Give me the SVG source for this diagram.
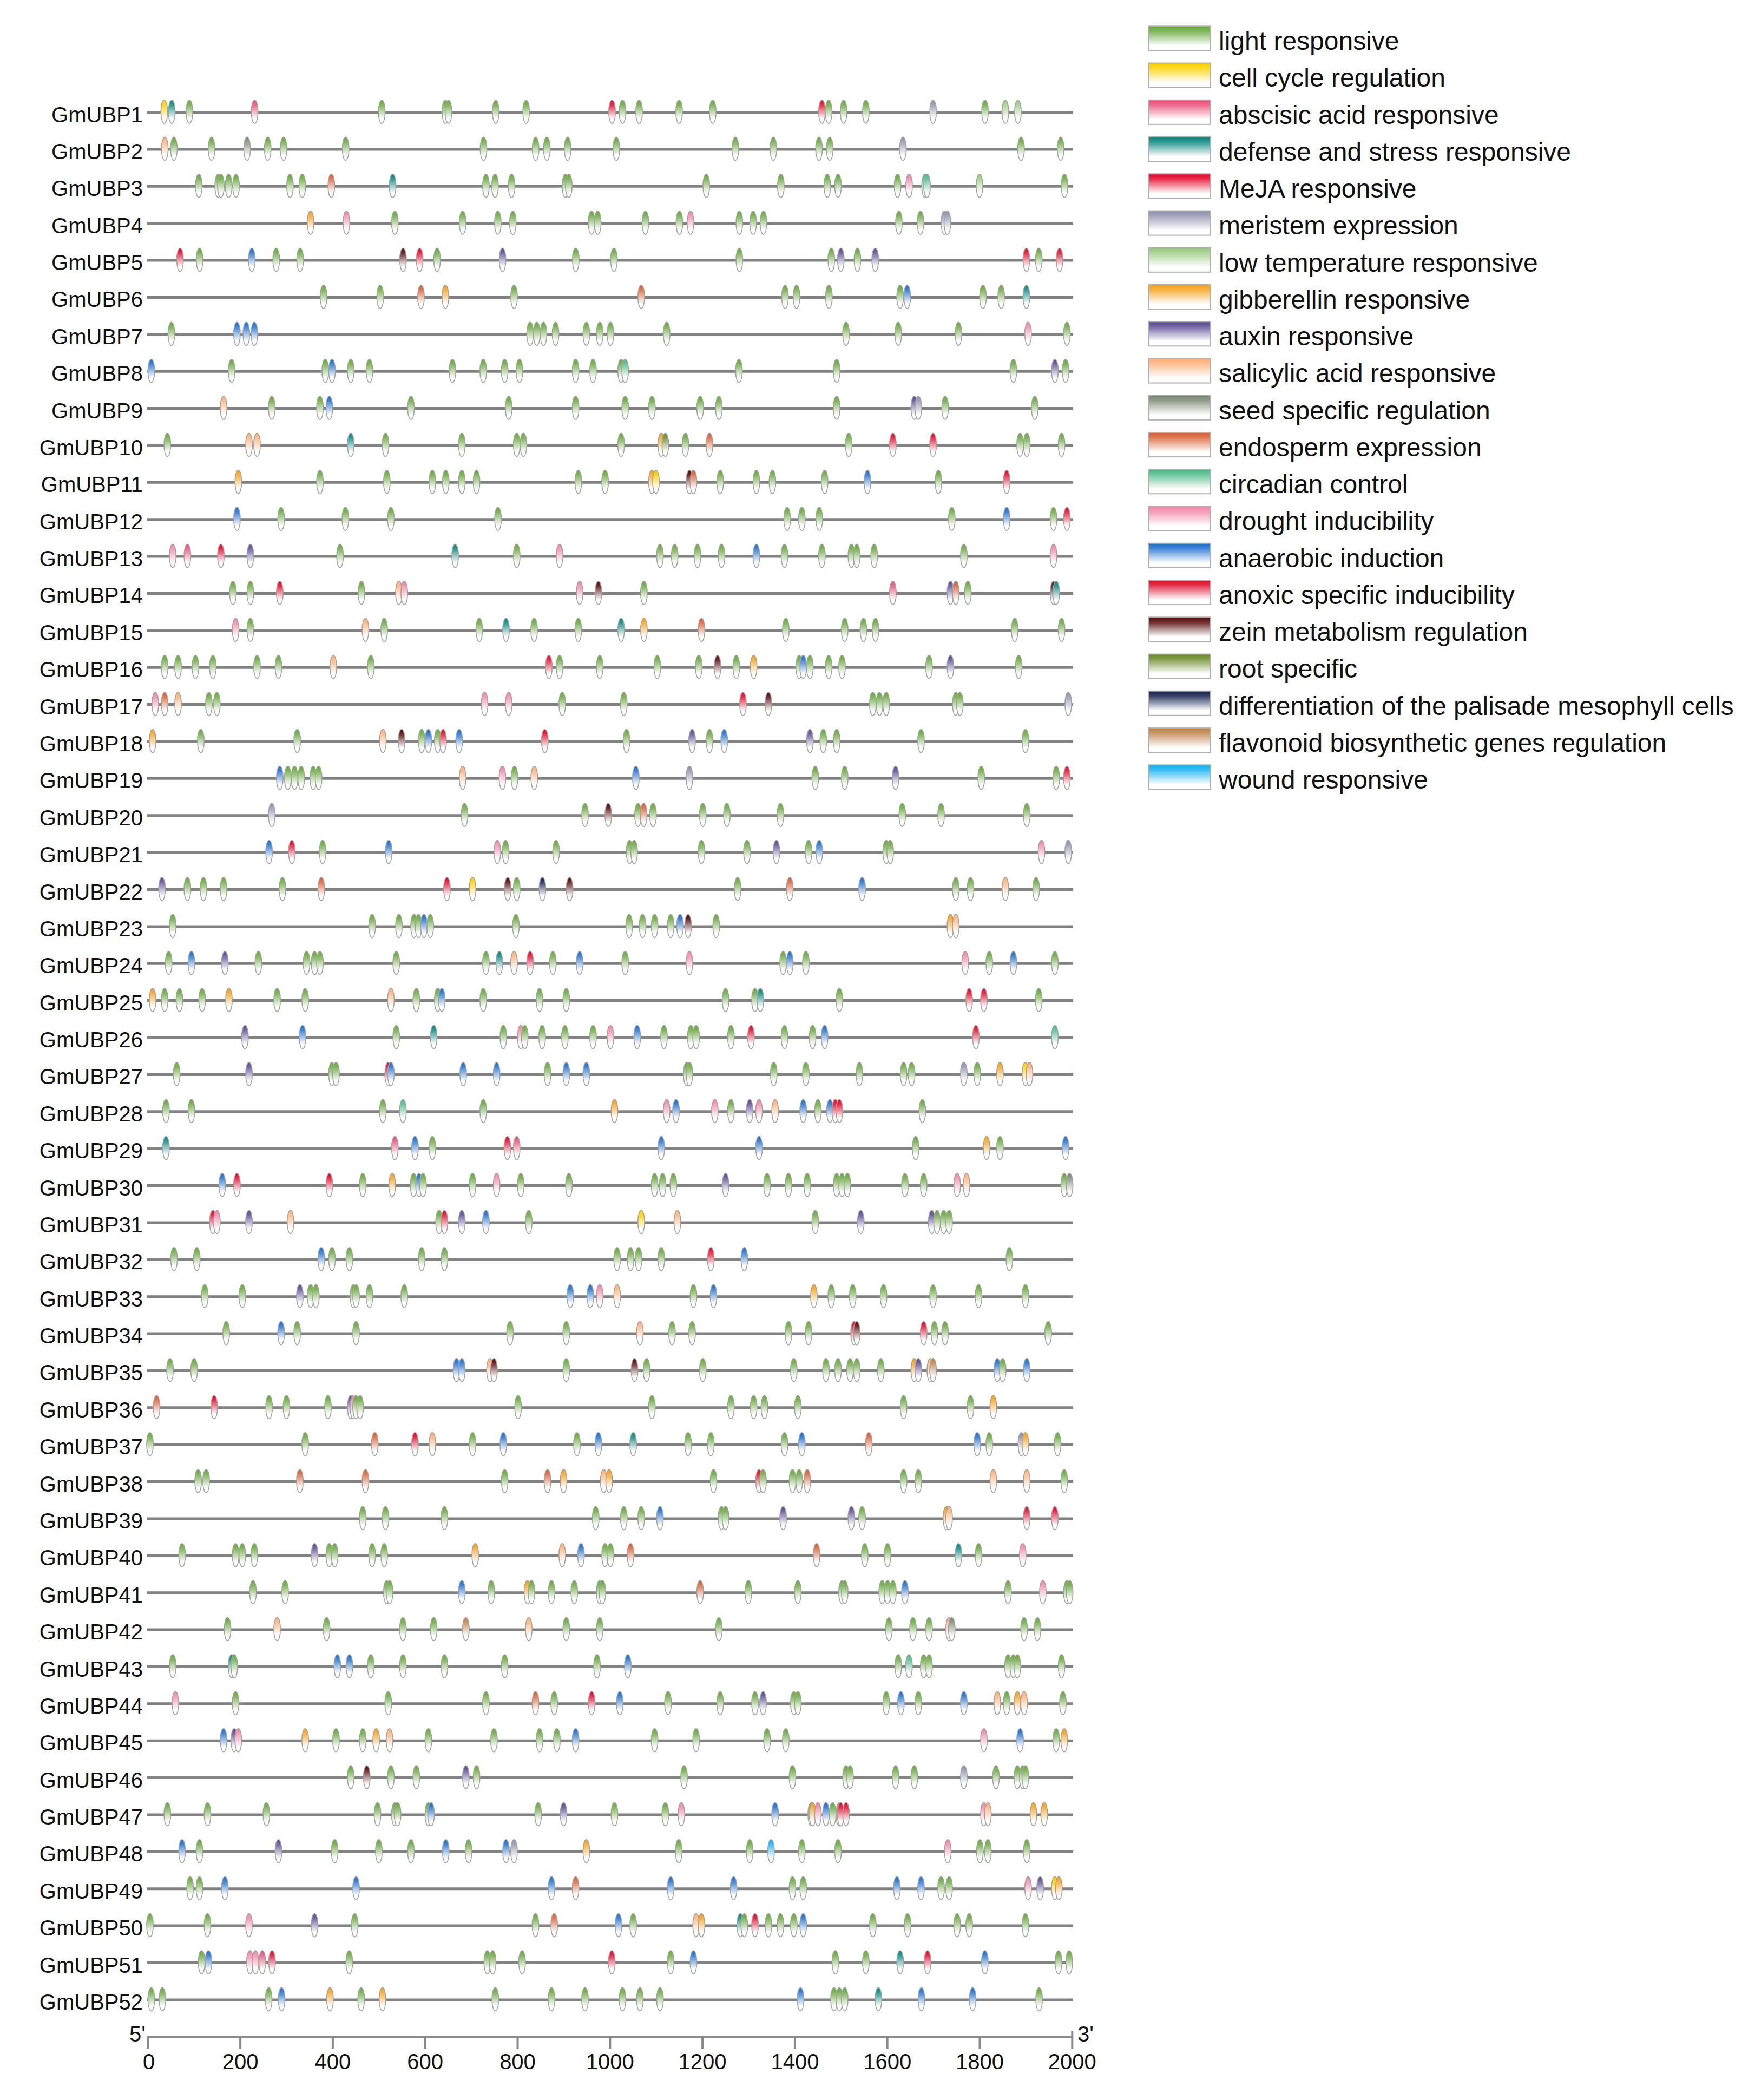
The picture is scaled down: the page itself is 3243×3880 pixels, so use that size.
<svg xmlns="http://www.w3.org/2000/svg" width="3243" height="3880" viewBox="0 0 3243 3880">
<style>
text{font-family:"Liberation Sans",Arial,sans-serif;fill:#111}
.lb{font-size:40px;text-anchor:end}
.lg{font-size:48px}
.ax{font-size:40px;text-anchor:middle}
.ln{stroke:#828282;stroke-width:5}
.e{stroke:#a2a2a2;stroke-width:1.6;vector-effect:non-scaling-stroke}
.sw{stroke:#b0b0b0;stroke-width:2}
.tk{stroke:#8a8a8a;stroke-width:4;fill:none}
</style>
<defs>
<linearGradient id="gL" x1="0" y1="0" x2="0" y2="1"><stop offset="0" stop-color="#6aa83e"/><stop offset="0.2" stop-color="#7cb654"/><stop offset="0.8" stop-color="#fff"/></linearGradient>
<linearGradient id="gC" x1="0" y1="0" x2="0" y2="1"><stop offset="0" stop-color="#ffcf00"/><stop offset="0.2" stop-color="#ffd820"/><stop offset="0.8" stop-color="#fff"/></linearGradient>
<linearGradient id="gA" x1="0" y1="0" x2="0" y2="1"><stop offset="0" stop-color="#e84f76"/><stop offset="0.2" stop-color="#ee6a8c"/><stop offset="0.8" stop-color="#fff"/></linearGradient>
<linearGradient id="gD" x1="0" y1="0" x2="0" y2="1"><stop offset="0" stop-color="#0f7f7a"/><stop offset="0.2" stop-color="#2a9a94"/><stop offset="0.8" stop-color="#fff"/></linearGradient>
<linearGradient id="gM" x1="0" y1="0" x2="0" y2="1"><stop offset="0" stop-color="#e3002a"/><stop offset="0.2" stop-color="#ec2a48"/><stop offset="0.8" stop-color="#fff"/></linearGradient>
<linearGradient id="gE" x1="0" y1="0" x2="0" y2="1"><stop offset="0" stop-color="#8d8cab"/><stop offset="0.2" stop-color="#a4a3bd"/><stop offset="0.8" stop-color="#fff"/></linearGradient>
<linearGradient id="gT" x1="0" y1="0" x2="0" y2="1"><stop offset="0" stop-color="#95c97a"/><stop offset="0.2" stop-color="#acd596"/><stop offset="0.8" stop-color="#fff"/></linearGradient>
<linearGradient id="gG" x1="0" y1="0" x2="0" y2="1"><stop offset="0" stop-color="#f5a01a"/><stop offset="0.2" stop-color="#f8b03e"/><stop offset="0.8" stop-color="#fff"/></linearGradient>
<linearGradient id="gX" x1="0" y1="0" x2="0" y2="1"><stop offset="0" stop-color="#56468e"/><stop offset="0.2" stop-color="#7466a6"/><stop offset="0.8" stop-color="#fff"/></linearGradient>
<linearGradient id="gS" x1="0" y1="0" x2="0" y2="1"><stop offset="0" stop-color="#ffb07a"/><stop offset="0.2" stop-color="#ffbe8e"/><stop offset="0.8" stop-color="#fff"/></linearGradient>
<linearGradient id="gQ" x1="0" y1="0" x2="0" y2="1"><stop offset="0" stop-color="#78836f"/><stop offset="0.2" stop-color="#939c8b"/><stop offset="0.8" stop-color="#fff"/></linearGradient>
<linearGradient id="gN" x1="0" y1="0" x2="0" y2="1"><stop offset="0" stop-color="#d65a32"/><stop offset="0.2" stop-color="#e07850"/><stop offset="0.8" stop-color="#fff"/></linearGradient>
<linearGradient id="gR" x1="0" y1="0" x2="0" y2="1"><stop offset="0" stop-color="#45b886"/><stop offset="0.2" stop-color="#68c69c"/><stop offset="0.8" stop-color="#fff"/></linearGradient>
<linearGradient id="gH" x1="0" y1="0" x2="0" y2="1"><stop offset="0" stop-color="#f184a6"/><stop offset="0.2" stop-color="#f49bb7"/><stop offset="0.8" stop-color="#fff"/></linearGradient>
<linearGradient id="gB" x1="0" y1="0" x2="0" y2="1"><stop offset="0" stop-color="#1c6acb"/><stop offset="0.2" stop-color="#3c84d8"/><stop offset="0.8" stop-color="#fff"/></linearGradient>
<linearGradient id="gK" x1="0" y1="0" x2="0" y2="1"><stop offset="0" stop-color="#dc0a28"/><stop offset="0.2" stop-color="#e5304a"/><stop offset="0.8" stop-color="#fff"/></linearGradient>
<linearGradient id="gZ" x1="0" y1="0" x2="0" y2="1"><stop offset="0" stop-color="#4f0c0c"/><stop offset="0.2" stop-color="#6e2a2a"/><stop offset="0.8" stop-color="#fff"/></linearGradient>
<linearGradient id="gO" x1="0" y1="0" x2="0" y2="1"><stop offset="0" stop-color="#67862a"/><stop offset="0.2" stop-color="#809c48"/><stop offset="0.8" stop-color="#fff"/></linearGradient>
<linearGradient id="gP" x1="0" y1="0" x2="0" y2="1"><stop offset="0" stop-color="#161f48"/><stop offset="0.2" stop-color="#353f68"/><stop offset="0.8" stop-color="#fff"/></linearGradient>
<linearGradient id="gF" x1="0" y1="0" x2="0" y2="1"><stop offset="0" stop-color="#bd8247"/><stop offset="0.2" stop-color="#c99565"/><stop offset="0.8" stop-color="#fff"/></linearGradient>
<linearGradient id="gW" x1="0" y1="0" x2="0" y2="1"><stop offset="0" stop-color="#0aaef0"/><stop offset="0.2" stop-color="#36bff4"/><stop offset="0.8" stop-color="#fff"/></linearGradient>
<ellipse id="eL" class="e" cy="-1" rx="2.5" ry="21.5" fill="url(#gL)"/>
<ellipse id="eC" class="e" cy="-1" rx="2.5" ry="21.5" fill="url(#gC)"/>
<ellipse id="eA" class="e" cy="-1" rx="2.5" ry="21.5" fill="url(#gA)"/>
<ellipse id="eD" class="e" cy="-1" rx="2.5" ry="21.5" fill="url(#gD)"/>
<ellipse id="eM" class="e" cy="-1" rx="2.5" ry="21.5" fill="url(#gM)"/>
<ellipse id="eE" class="e" cy="-1" rx="2.5" ry="21.5" fill="url(#gE)"/>
<ellipse id="eT" class="e" cy="-1" rx="2.5" ry="21.5" fill="url(#gT)"/>
<ellipse id="eG" class="e" cy="-1" rx="2.5" ry="21.5" fill="url(#gG)"/>
<ellipse id="eX" class="e" cy="-1" rx="2.5" ry="21.5" fill="url(#gX)"/>
<ellipse id="eS" class="e" cy="-1" rx="2.5" ry="21.5" fill="url(#gS)"/>
<ellipse id="eQ" class="e" cy="-1" rx="2.5" ry="21.5" fill="url(#gQ)"/>
<ellipse id="eN" class="e" cy="-1" rx="2.5" ry="21.5" fill="url(#gN)"/>
<ellipse id="eR" class="e" cy="-1" rx="2.5" ry="21.5" fill="url(#gR)"/>
<ellipse id="eH" class="e" cy="-1" rx="2.5" ry="21.5" fill="url(#gH)"/>
<ellipse id="eB" class="e" cy="-1" rx="2.5" ry="21.5" fill="url(#gB)"/>
<ellipse id="eK" class="e" cy="-1" rx="2.5" ry="21.5" fill="url(#gK)"/>
<ellipse id="eZ" class="e" cy="-1" rx="2.5" ry="21.5" fill="url(#gZ)"/>
<ellipse id="eO" class="e" cy="-1" rx="2.5" ry="21.5" fill="url(#gO)"/>
<ellipse id="eP" class="e" cy="-1" rx="2.5" ry="21.5" fill="url(#gP)"/>
<ellipse id="eF" class="e" cy="-1" rx="2.5" ry="21.5" fill="url(#gF)"/>
<ellipse id="eW" class="e" cy="-1" rx="2.5" ry="21.5" fill="url(#gW)"/>
</defs>
<rect width="3243" height="3880" fill="#fff"/>

<g id="legend">
<g id="lg1"><rect class="sw" x="2123" y="48.3" width="114" height="45" fill="url(#gL)"/><text class="lg" x="2252" y="92">light responsive</text></g>
<g id="lg2"><rect class="sw" x="2123" y="116.6" width="114" height="45" fill="url(#gC)"/><text class="lg" x="2252" y="160.3">cell cycle regulation</text></g>
<g id="lg3"><rect class="sw" x="2123" y="184.8" width="114" height="45" fill="url(#gA)"/><text class="lg" x="2252" y="228.5">abscisic acid responsive</text></g>
<g id="lg4"><rect class="sw" x="2123" y="253.1" width="114" height="45" fill="url(#gD)"/><text class="lg" x="2252" y="296.8">defense and stress responsive</text></g>
<g id="lg5"><rect class="sw" x="2123" y="321.3" width="114" height="45" fill="url(#gM)"/><text class="lg" x="2252" y="365">MeJA responsive</text></g>
<g id="lg6"><rect class="sw" x="2123" y="389.6" width="114" height="45" fill="url(#gE)"/><text class="lg" x="2252" y="433.3">meristem expression</text></g>
<g id="lg7"><rect class="sw" x="2123" y="457.8" width="114" height="45" fill="url(#gT)"/><text class="lg" x="2252" y="501.5">low temperature responsive</text></g>
<g id="lg8"><rect class="sw" x="2123" y="526.1" width="114" height="45" fill="url(#gG)"/><text class="lg" x="2252" y="569.8">gibberellin responsive</text></g>
<g id="lg9"><rect class="sw" x="2123" y="594.3" width="114" height="45" fill="url(#gX)"/><text class="lg" x="2252" y="638">auxin responsive</text></g>
<g id="lg10"><rect class="sw" x="2123" y="662.6" width="114" height="45" fill="url(#gS)"/><text class="lg" x="2252" y="706.3">salicylic acid responsive</text></g>
<g id="lg11"><rect class="sw" x="2123" y="730.8" width="114" height="45" fill="url(#gQ)"/><text class="lg" x="2252" y="774.5">seed specific regulation</text></g>
<g id="lg12"><rect class="sw" x="2123" y="799.1" width="114" height="45" fill="url(#gN)"/><text class="lg" x="2252" y="842.8">endosperm expression</text></g>
<g id="lg13"><rect class="sw" x="2123" y="867.3" width="114" height="45" fill="url(#gR)"/><text class="lg" x="2252" y="911">circadian control</text></g>
<g id="lg14"><rect class="sw" x="2123" y="935.6" width="114" height="45" fill="url(#gH)"/><text class="lg" x="2252" y="979.3">drought inducibility</text></g>
<g id="lg15"><rect class="sw" x="2123" y="1003.8" width="114" height="45" fill="url(#gB)"/><text class="lg" x="2252" y="1047.5">anaerobic induction</text></g>
<g id="lg16"><rect class="sw" x="2123" y="1072.1" width="114" height="45" fill="url(#gK)"/><text class="lg" x="2252" y="1115.8">anoxic specific inducibility</text></g>
<g id="lg17"><rect class="sw" x="2123" y="1140.3" width="114" height="45" fill="url(#gZ)"/><text class="lg" x="2252" y="1184">zein metabolism regulation</text></g>
<g id="lg18"><rect class="sw" x="2123" y="1208.6" width="114" height="45" fill="url(#gO)"/><text class="lg" x="2252" y="1252.3">root specific</text></g>
<g id="lg19"><rect class="sw" x="2123" y="1276.8" width="114" height="45" fill="url(#gP)"/><text class="lg" x="2252" y="1320.5">differentiation of the palisade mesophyll cells</text></g>
<g id="lg20"><rect class="sw" x="2123" y="1345.1" width="114" height="45" fill="url(#gF)"/><text class="lg" x="2252" y="1388.8">flavonoid biosynthetic genes regulation</text></g>
<g id="lg21"><rect class="sw" x="2123" y="1413.3" width="114" height="45" fill="url(#gW)"/><text class="lg" x="2252" y="1457">wound responsive</text></g>
</g>

<g id="rows">
<g id="GmUBP1" transform="translate(0,207.5)"><text class="lb" x="264" y="18">GmUBP1</text><line class="ln" x1="272" x2="1983"/><g transform="scale(2.4737 1)"><use href="#eC" x="122.7"/><use href="#eD" x="128.3"/><use href="#eL" x="141.5"/><use href="#eA" x="190.2"/><use href="#eL" x="285.2"/><use href="#eL" x="332.7"/><use href="#eL" x="335"/><use href="#eL" x="370.3"/><use href="#eL" x="393"/><use href="#eM" x="457.2"/><use href="#eL" x="465"/><use href="#eL" x="477.4"/><use href="#eL" x="507.3"/><use href="#eL" x="532.4"/><use href="#eM" x="614"/><use href="#eL" x="619"/><use href="#eL" x="630.2"/><use href="#eL" x="646.8"/><use href="#eE" x="697"/><use href="#eL" x="735.8"/><use href="#eT" x="751"/><use href="#eT" x="760.4"/></g></g>
<g id="GmUBP2" transform="translate(0,275.9)"><text class="lb" x="264" y="18">GmUBP2</text><line class="ln" x1="272" x2="1983"/><g transform="scale(2.4737 1)"><use href="#eS" x="123.1"/><use href="#eL" x="129.9"/><use href="#eL" x="158"/><use href="#eQ" x="184.6"/><use href="#eL" x="200"/><use href="#eL" x="211.8"/><use href="#eL" x="258.2"/><use href="#eL" x="361.2"/><use href="#eL" x="400.1"/><use href="#eL" x="408.5"/><use href="#eL" x="424"/><use href="#eL" x="460.4"/><use href="#eL" x="549.3"/><use href="#eL" x="577.7"/><use href="#eL" x="611.8"/><use href="#eL" x="619.8"/><use href="#eE" x="674.5"/><use href="#eL" x="762.7"/><use href="#eL" x="792.3"/></g></g>
<g id="GmUBP3" transform="translate(0,344.3)"><text class="lb" x="264" y="18">GmUBP3</text><line class="ln" x1="272" x2="1983"/><g transform="scale(2.4737 1)"><use href="#eL" x="148.5"/><use href="#eL" x="163"/><use href="#eL" x="165"/><use href="#eL" x="170.8"/><use href="#eL" x="176.3"/><use href="#eL" x="216.6"/><use href="#eL" x="225.8"/><use href="#eN" x="247.5"/><use href="#eD" x="293.3"/><use href="#eL" x="363"/><use href="#eL" x="369.8"/><use href="#eL" x="382.2"/><use href="#eL" x="422.4"/><use href="#eL" x="424.9"/><use href="#eL" x="527.6"/><use href="#eL" x="583.3"/><use href="#eL" x="618"/><use href="#eL" x="626"/><use href="#eL" x="670.5"/><use href="#eH" x="679.1"/><use href="#eR" x="691"/><use href="#eR" x="692.5"/><use href="#eT" x="731.7"/><use href="#eL" x="795.2"/></g></g>
<g id="GmUBP4" transform="translate(0,412.6)"><text class="lb" x="264" y="18">GmUBP4</text><line class="ln" x1="272" x2="1983"/><g transform="scale(2.4737 1)"><use href="#eG" x="232"/><use href="#eH" x="258.8"/><use href="#eL" x="295"/><use href="#eL" x="345.6"/><use href="#eL" x="371.9"/><use href="#eL" x="383.1"/><use href="#eL" x="441.9"/><use href="#eL" x="446.5"/><use href="#eL" x="482.1"/><use href="#eL" x="507.5"/><use href="#eH" x="515.8"/><use href="#eL" x="552.3"/><use href="#eL" x="562.6"/><use href="#eL" x="570.3"/><use href="#eL" x="671.5"/><use href="#eL" x="687.6"/><use href="#eE" x="705.5"/><use href="#eE" x="707.7"/></g></g>
<g id="GmUBP5" transform="translate(0,481)"><text class="lb" x="264" y="18">GmUBP5</text><line class="ln" x1="272" x2="1983"/><g transform="scale(2.4737 1)"><use href="#eM" x="134.5"/><use href="#eL" x="149.1"/><use href="#eB" x="188.1"/><use href="#eL" x="206.3"/><use href="#eL" x="224.2"/><use href="#eZ" x="301.1"/><use href="#eM" x="313.5"/><use href="#eL" x="326.5"/><use href="#eX" x="375.4"/><use href="#eL" x="430.1"/><use href="#eL" x="458.6"/><use href="#eL" x="552.3"/><use href="#eL" x="621"/><use href="#eX" x="628.1"/><use href="#eL" x="640.5"/><use href="#eX" x="653.8"/><use href="#eM" x="766.7"/><use href="#eL" x="776"/><use href="#eK" x="791.5"/></g></g>
<g id="GmUBP6" transform="translate(0,549.4)"><text class="lb" x="264" y="18">GmUBP6</text><line class="ln" x1="272" x2="1983"/><g transform="scale(2.4737 1)"><use href="#eL" x="241.7"/><use href="#eL" x="284"/><use href="#eN" x="314.5"/><use href="#eG" x="332.7"/><use href="#eL" x="384"/><use href="#eN" x="479"/><use href="#eL" x="586.4"/><use href="#eL" x="595"/><use href="#eL" x="619.2"/><use href="#eL" x="672.4"/><use href="#eB" x="677.7"/><use href="#eL" x="734.3"/><use href="#eL" x="747.9"/><use href="#eD" x="766.7"/></g></g>
<g id="GmUBP7" transform="translate(0,617.8)"><text class="lb" x="264" y="18">GmUBP7</text><line class="ln" x1="272" x2="1983"/><g transform="scale(2.4737 1)"><use href="#eL" x="128"/><use href="#eB" x="177"/><use href="#eB" x="184"/><use href="#eB" x="190"/><use href="#eL" x="396"/><use href="#eL" x="401"/><use href="#eL" x="406"/><use href="#eL" x="415"/><use href="#eL" x="438"/><use href="#eL" x="448"/><use href="#eL" x="456"/><use href="#eL" x="498"/><use href="#eL" x="632"/><use href="#eL" x="671"/><use href="#eL" x="716"/><use href="#eH" x="768"/><use href="#eL" x="797"/></g></g>
<g id="GmUBP8" transform="translate(0,686.2)"><text class="lb" x="264" y="18">GmUBP8</text><line class="ln" x1="272" x2="1983"/><g transform="scale(2.4737 1)"><use href="#eB" x="113"/><use href="#eL" x="173"/><use href="#eL" x="243"/><use href="#eB" x="248"/><use href="#eL" x="262"/><use href="#eL" x="276"/><use href="#eL" x="338"/><use href="#eL" x="361"/><use href="#eL" x="377"/><use href="#eL" x="388"/><use href="#eL" x="430"/><use href="#eL" x="443"/><use href="#eL" x="464"/><use href="#eR" x="467"/><use href="#eL" x="552"/><use href="#eL" x="625"/><use href="#eL" x="757"/><use href="#eX" x="788"/><use href="#eL" x="796"/></g></g>
<g id="GmUBP9" transform="translate(0,754.5)"><text class="lb" x="264" y="18">GmUBP9</text><line class="ln" x1="272" x2="1983"/><g transform="scale(2.4737 1)"><use href="#eS" x="167"/><use href="#eL" x="203"/><use href="#eL" x="239"/><use href="#eB" x="246"/><use href="#eL" x="307"/><use href="#eL" x="380"/><use href="#eL" x="430"/><use href="#eL" x="467"/><use href="#eL" x="487"/><use href="#eL" x="523"/><use href="#eL" x="537"/><use href="#eL" x="625"/><use href="#eX" x="683"/><use href="#eE" x="686"/><use href="#eL" x="706"/><use href="#eL" x="773"/></g></g>
<g id="GmUBP10" transform="translate(0,822.9)"><text class="lb" x="264" y="18">GmUBP10</text><line class="ln" x1="272" x2="1983"/><g transform="scale(2.4737 1)"><use href="#eL" x="125"/><use href="#eS" x="186"/><use href="#eS" x="192"/><use href="#eD" x="262"/><use href="#eL" x="288"/><use href="#eL" x="345"/><use href="#eL" x="386"/><use href="#eL" x="391"/><use href="#eL" x="464"/><use href="#eG" x="494"/><use href="#eO" x="497"/><use href="#eL" x="512"/><use href="#eN" x="530"/><use href="#eL" x="634"/><use href="#eM" x="667"/><use href="#eM" x="697"/><use href="#eL" x="762"/><use href="#eL" x="767"/><use href="#eL" x="793"/></g></g>
<g id="GmUBP11" transform="translate(0,891.3)"><text class="lb" x="264" y="18">GmUBP11</text><line class="ln" x1="272" x2="1983"/><g transform="scale(2.4737 1)"><use href="#eG" x="178"/><use href="#eL" x="239"/><use href="#eL" x="289"/><use href="#eL" x="323"/><use href="#eL" x="333"/><use href="#eL" x="345"/><use href="#eL" x="356"/><use href="#eL" x="432"/><use href="#eL" x="452"/><use href="#eG" x="487"/><use href="#eC" x="490"/><use href="#eZ" x="515"/><use href="#eN" x="518"/><use href="#eL" x="538"/><use href="#eL" x="565"/><use href="#eL" x="577"/><use href="#eL" x="616"/><use href="#eB" x="648"/><use href="#eL" x="701"/><use href="#eM" x="752"/></g></g>
<g id="GmUBP12" transform="translate(0,959.7)"><text class="lb" x="264" y="18">GmUBP12</text><line class="ln" x1="272" x2="1983"/><g transform="scale(2.4737 1)"><use href="#eB" x="177"/><use href="#eL" x="210"/><use href="#eL" x="258"/><use href="#eL" x="292"/><use href="#eL" x="372"/><use href="#eL" x="588"/><use href="#eL" x="599"/><use href="#eL" x="612"/><use href="#eL" x="711"/><use href="#eB" x="752"/><use href="#eL" x="787"/><use href="#eM" x="797"/></g></g>
<g id="GmUBP13" transform="translate(0,1028.1)"><text class="lb" x="264" y="18">GmUBP13</text><line class="ln" x1="272" x2="1983"/><g transform="scale(2.4737 1)"><use href="#eH" x="129"/><use href="#eA" x="140"/><use href="#eM" x="165"/><use href="#eX" x="187"/><use href="#eL" x="254"/><use href="#eD" x="340"/><use href="#eL" x="386"/><use href="#eH" x="418"/><use href="#eL" x="493"/><use href="#eL" x="504"/><use href="#eL" x="521"/><use href="#eL" x="539"/><use href="#eB" x="565"/><use href="#eL" x="586"/><use href="#eL" x="614"/><use href="#eL" x="636"/><use href="#eL" x="640"/><use href="#eL" x="653"/><use href="#eL" x="720"/><use href="#eH" x="787"/></g></g>
<g id="GmUBP14" transform="translate(0,1096.4)"><text class="lb" x="264" y="18">GmUBP14</text><line class="ln" x1="272" x2="1983"/><g transform="scale(2.4737 1)"><use href="#eL" x="174"/><use href="#eL" x="187"/><use href="#eM" x="209"/><use href="#eL" x="270"/><use href="#eS" x="298"/><use href="#eH" x="302"/><use href="#eH" x="433"/><use href="#eZ" x="447"/><use href="#eL" x="481"/><use href="#eA" x="667"/><use href="#eX" x="710"/><use href="#eN" x="714"/><use href="#eL" x="723"/><use href="#eZ" x="787"/><use href="#eD" x="789"/></g></g>
<g id="GmUBP15" transform="translate(0,1164.8)"><text class="lb" x="264" y="18">GmUBP15</text><line class="ln" x1="272" x2="1983"/><g transform="scale(2.4737 1)"><use href="#eH" x="176"/><use href="#eL" x="187"/><use href="#eS" x="273"/><use href="#eL" x="287"/><use href="#eL" x="358"/><use href="#eD" x="378"/><use href="#eL" x="399"/><use href="#eL" x="432"/><use href="#eD" x="464"/><use href="#eG" x="481"/><use href="#eN" x="524"/><use href="#eL" x="587"/><use href="#eL" x="631"/><use href="#eL" x="645"/><use href="#eL" x="654"/><use href="#eL" x="758"/><use href="#eL" x="793"/></g></g>
<g id="GmUBP16" transform="translate(0,1233.2)"><text class="lb" x="264" y="18">GmUBP16</text><line class="ln" x1="272" x2="1983"/><g transform="scale(2.4737 1)"><use href="#eL" x="123"/><use href="#eL" x="133"/><use href="#eL" x="146"/><use href="#eL" x="159"/><use href="#eL" x="192"/><use href="#eL" x="208"/><use href="#eS" x="249"/><use href="#eL" x="277"/><use href="#eM" x="410"/><use href="#eL" x="418"/><use href="#eL" x="448"/><use href="#eL" x="491"/><use href="#eL" x="522"/><use href="#eZ" x="536"/><use href="#eL" x="550"/><use href="#eG" x="563"/><use href="#eL" x="597"/><use href="#eB" x="600"/><use href="#eL" x="605"/><use href="#eL" x="619"/><use href="#eL" x="629"/><use href="#eL" x="694"/><use href="#eX" x="710"/><use href="#eL" x="761"/></g></g>
<g id="GmUBP17" transform="translate(0,1301.6)"><text class="lb" x="264" y="18">GmUBP17</text><line class="ln" x1="272" x2="1983"/><g transform="scale(2.4737 1)"><use href="#eH" x="116"/><use href="#eN" x="123"/><use href="#eS" x="133"/><use href="#eL" x="156"/><use href="#eL" x="162"/><use href="#eH" x="362"/><use href="#eH" x="380"/><use href="#eL" x="420"/><use href="#eL" x="466"/><use href="#eM" x="555"/><use href="#eZ" x="574"/><use href="#eL" x="652"/><use href="#eL" x="657"/><use href="#eL" x="662"/><use href="#eL" x="714"/><use href="#eL" x="717"/><use href="#eE" x="798"/></g></g>
<g id="GmUBP18" transform="translate(0,1370)"><text class="lb" x="264" y="18">GmUBP18</text><line class="ln" x1="272" x2="1983"/><g transform="scale(2.4737 1)"><use href="#eG" x="114"/><use href="#eL" x="150"/><use href="#eL" x="222"/><use href="#eS" x="286"/><use href="#eZ" x="300"/><use href="#eL" x="315"/><use href="#eB" x="320"/><use href="#eL" x="327"/><use href="#eK" x="331"/><use href="#eB" x="343"/><use href="#eM" x="407"/><use href="#eL" x="468"/><use href="#eX" x="517"/><use href="#eL" x="530"/><use href="#eB" x="541"/><use href="#eX" x="605"/><use href="#eL" x="615"/><use href="#eL" x="625"/><use href="#eL" x="688"/><use href="#eL" x="766"/></g></g>
<g id="GmUBP19" transform="translate(0,1438.3)"><text class="lb" x="264" y="18">GmUBP19</text><line class="ln" x1="272" x2="1983"/><g transform="scale(2.4737 1)"><use href="#eB" x="209"/><use href="#eL" x="215"/><use href="#eL" x="220"/><use href="#eL" x="225"/><use href="#eL" x="234"/><use href="#eL" x="238"/><use href="#eS" x="345.6"/><use href="#eH" x="375.3"/><use href="#eL" x="384.3"/><use href="#eS" x="399.1"/><use href="#eB" x="475"/><use href="#eE" x="515"/><use href="#eL" x="609"/><use href="#eL" x="631"/><use href="#eX" x="669"/><use href="#eL" x="733"/><use href="#eL" x="789"/><use href="#eM" x="797"/></g></g>
<g id="GmUBP20" transform="translate(0,1506.7)"><text class="lb" x="264" y="18">GmUBP20</text><line class="ln" x1="272" x2="1983"/><g transform="scale(2.4737 1)"><use href="#eE" x="203"/><use href="#eL" x="347"/><use href="#eL" x="437"/><use href="#eZ" x="454.4"/><use href="#eL" x="476.6"/><use href="#eN" x="480.8"/><use href="#eL" x="487.8"/><use href="#eL" x="525"/><use href="#eL" x="543"/><use href="#eL" x="583"/><use href="#eL" x="674"/><use href="#eL" x="703"/><use href="#eL" x="767"/></g></g>
<g id="GmUBP21" transform="translate(0,1575.1)"><text class="lb" x="264" y="18">GmUBP21</text><line class="ln" x1="272" x2="1983"/><g transform="scale(2.4737 1)"><use href="#eB" x="201"/><use href="#eM" x="218"/><use href="#eL" x="241"/><use href="#eB" x="290.4"/><use href="#eH" x="371.5"/><use href="#eL" x="377.7"/><use href="#eL" x="415.4"/><use href="#eL" x="470.3"/><use href="#eL" x="473.7"/><use href="#eL" x="524"/><use href="#eL" x="558"/><use href="#eX" x="580"/><use href="#eL" x="604"/><use href="#eB" x="612"/><use href="#eL" x="662"/><use href="#eL" x="665"/><use href="#eH" x="778"/><use href="#eE" x="798"/></g></g>
<g id="GmUBP22" transform="translate(0,1643.5)"><text class="lb" x="264" y="18">GmUBP22</text><line class="ln" x1="272" x2="1983"/><g transform="scale(2.4737 1)"><use href="#eX" x="121"/><use href="#eL" x="140"/><use href="#eL" x="152"/><use href="#eL" x="167"/><use href="#eL" x="211"/><use href="#eN" x="240"/><use href="#eM" x="333.9"/><use href="#eC" x="353"/><use href="#eZ" x="379.3"/><use href="#eL" x="386"/><use href="#eP" x="405.2"/><use href="#eZ" x="425.5"/><use href="#eL" x="551"/><use href="#eN" x="590"/><use href="#eB" x="644"/><use href="#eL" x="714"/><use href="#eL" x="725"/><use href="#eS" x="751"/><use href="#eL" x="774"/></g></g>
<g id="GmUBP23" transform="translate(0,1711.9)"><text class="lb" x="264" y="18">GmUBP23</text><line class="ln" x1="272" x2="1983"/><g transform="scale(2.4737 1)"><use href="#eL" x="129"/><use href="#eL" x="278"/><use href="#eL" x="298"/><use href="#eL" x="309.3"/><use href="#eL" x="312.6"/><use href="#eB" x="316.7"/><use href="#eL" x="321.4"/><use href="#eL" x="385.4"/><use href="#eL" x="470"/><use href="#eL" x="480"/><use href="#eL" x="489"/><use href="#eL" x="501"/><use href="#eB" x="508"/><use href="#eZ" x="514"/><use href="#eL" x="535"/><use href="#eG" x="710"/><use href="#eS" x="714"/></g></g>
<g id="GmUBP24" transform="translate(0,1780.2)"><text class="lb" x="264" y="18">GmUBP24</text><line class="ln" x1="272" x2="1983"/><g transform="scale(2.4737 1)"><use href="#eL" x="126"/><use href="#eB" x="143"/><use href="#eX" x="168"/><use href="#eL" x="193"/><use href="#eL" x="229"/><use href="#eL" x="235"/><use href="#eL" x="239"/><use href="#eL" x="296"/><use href="#eL" x="363"/><use href="#eD" x="373"/><use href="#eS" x="384"/><use href="#eM" x="396"/><use href="#eL" x="413"/><use href="#eB" x="433"/><use href="#eL" x="467"/><use href="#eH" x="515"/><use href="#eL" x="585"/><use href="#eB" x="590"/><use href="#eL" x="602"/><use href="#eH" x="721"/><use href="#eL" x="739"/><use href="#eB" x="757"/><use href="#eL" x="788"/></g></g>
<g id="GmUBP25" transform="translate(0,1848.6)"><text class="lb" x="264" y="18">GmUBP25</text><line class="ln" x1="272" x2="1983"/><g transform="scale(2.4737 1)"><use href="#eG" x="114"/><use href="#eL" x="123"/><use href="#eL" x="134"/><use href="#eL" x="151"/><use href="#eG" x="171"/><use href="#eL" x="207"/><use href="#eL" x="228"/><use href="#eS" x="292"/><use href="#eL" x="311"/><use href="#eL" x="327"/><use href="#eB" x="330"/><use href="#eL" x="361"/><use href="#eL" x="403"/><use href="#eL" x="423"/><use href="#eL" x="542"/><use href="#eL" x="564"/><use href="#eD" x="568"/><use href="#eL" x="627"/><use href="#eM" x="724"/><use href="#eM" x="735"/><use href="#eL" x="776"/></g></g>
<g id="GmUBP26" transform="translate(0,1917)"><text class="lb" x="264" y="18">GmUBP26</text><line class="ln" x1="272" x2="1983"/><g transform="scale(2.4737 1)"><use href="#eX" x="183"/><use href="#eB" x="226"/><use href="#eL" x="296"/><use href="#eD" x="324"/><use href="#eL" x="376"/><use href="#eH" x="389"/><use href="#eL" x="392"/><use href="#eL" x="405"/><use href="#eL" x="422"/><use href="#eL" x="443"/><use href="#eH" x="456"/><use href="#eB" x="476"/><use href="#eL" x="496"/><use href="#eL" x="516"/><use href="#eL" x="520"/><use href="#eL" x="546"/><use href="#eM" x="561"/><use href="#eL" x="586"/><use href="#eL" x="607"/><use href="#eB" x="616"/><use href="#eM" x="729"/><use href="#eR" x="788"/></g></g>
<g id="GmUBP27" transform="translate(0,1985.4)"><text class="lb" x="264" y="18">GmUBP27</text><line class="ln" x1="272" x2="1983"/><g transform="scale(2.4737 1)"><use href="#eL" x="132"/><use href="#eX" x="186"/><use href="#eL" x="248"/><use href="#eL" x="251"/><use href="#eM" x="290"/><use href="#eB" x="292"/><use href="#eB" x="346"/><use href="#eB" x="371"/><use href="#eL" x="409"/><use href="#eB" x="423"/><use href="#eB" x="438"/><use href="#eL" x="513"/><use href="#eL" x="515"/><use href="#eL" x="578"/><use href="#eL" x="602"/><use href="#eL" x="642"/><use href="#eL" x="675"/><use href="#eL" x="681"/><use href="#eE" x="720"/><use href="#eL" x="730"/><use href="#eG" x="747"/><use href="#eC" x="766"/><use href="#eS" x="769"/></g></g>
<g id="GmUBP28" transform="translate(0,2053.8)"><text class="lb" x="264" y="18">GmUBP28</text><line class="ln" x1="272" x2="1983"/><g transform="scale(2.4737 1)"><use href="#eL" x="124"/><use href="#eL" x="143"/><use href="#eL" x="286"/><use href="#eR" x="301"/><use href="#eL" x="361"/><use href="#eG" x="459"/><use href="#eH" x="498"/><use href="#eB" x="505"/><use href="#eH" x="534"/><use href="#eL" x="546"/><use href="#eX" x="560"/><use href="#eH" x="567"/><use href="#eS" x="579"/><use href="#eB" x="600"/><use href="#eL" x="611"/><use href="#eB" x="620"/><use href="#eM" x="624"/><use href="#eM" x="627"/><use href="#eL" x="689"/></g></g>
<g id="GmUBP29" transform="translate(0,2122.1)"><text class="lb" x="264" y="18">GmUBP29</text><line class="ln" x1="272" x2="1983"/><g transform="scale(2.4737 1)"><use href="#eD" x="124"/><use href="#eA" x="295"/><use href="#eB" x="310"/><use href="#eL" x="323"/><use href="#eM" x="379"/><use href="#eA" x="386"/><use href="#eB" x="494"/><use href="#eB" x="567"/><use href="#eL" x="684"/><use href="#eG" x="737"/><use href="#eL" x="747"/><use href="#eB" x="796"/></g></g>
<g id="GmUBP30" transform="translate(0,2190.5)"><text class="lb" x="264" y="18">GmUBP30</text><line class="ln" x1="272" x2="1983"/><g transform="scale(2.4737 1)"><use href="#eB" x="166"/><use href="#eM" x="177"/><use href="#eM" x="246"/><use href="#eL" x="271"/><use href="#eG" x="293"/><use href="#eL" x="309"/><use href="#eB" x="313"/><use href="#eL" x="316"/><use href="#eL" x="353"/><use href="#eH" x="371"/><use href="#eL" x="389"/><use href="#eL" x="425"/><use href="#eL" x="489"/><use href="#eL" x="495"/><use href="#eL" x="503"/><use href="#eX" x="542"/><use href="#eL" x="573"/><use href="#eL" x="589"/><use href="#eL" x="603"/><use href="#eL" x="625"/><use href="#eL" x="629"/><use href="#eL" x="633"/><use href="#eL" x="676"/><use href="#eL" x="690"/><use href="#eH" x="715"/><use href="#eS" x="722"/><use href="#eL" x="795"/><use href="#eQ" x="799"/></g></g>
<g id="GmUBP31" transform="translate(0,2258.9)"><text class="lb" x="264" y="18">GmUBP31</text><line class="ln" x1="272" x2="1983"/><g transform="scale(2.4737 1)"><use href="#eM" x="159"/><use href="#eH" x="162"/><use href="#eX" x="186"/><use href="#eS" x="217"/><use href="#eL" x="328"/><use href="#eM" x="332"/><use href="#eX" x="345"/><use href="#eB" x="363"/><use href="#eL" x="395"/><use href="#eC" x="479"/><use href="#eS" x="506"/><use href="#eL" x="609"/><use href="#eX" x="643"/><use href="#eX" x="696"/><use href="#eL" x="700"/><use href="#eL" x="705"/><use href="#eL" x="709"/></g></g>
<g id="GmUBP32" transform="translate(0,2327.3)"><text class="lb" x="264" y="18">GmUBP32</text><line class="ln" x1="272" x2="1983"/><g transform="scale(2.4737 1)"><use href="#eL" x="130"/><use href="#eL" x="147"/><use href="#eB" x="240"/><use href="#eL" x="248"/><use href="#eL" x="261"/><use href="#eL" x="315"/><use href="#eL" x="332"/><use href="#eL" x="461"/><use href="#eL" x="471"/><use href="#eL" x="477"/><use href="#eL" x="494"/><use href="#eM" x="531"/><use href="#eB" x="556"/><use href="#eL" x="754"/></g></g>
<g id="GmUBP33" transform="translate(0,2395.7)"><text class="lb" x="264" y="18">GmUBP33</text><line class="ln" x1="272" x2="1983"/><g transform="scale(2.4737 1)"><use href="#eL" x="153"/><use href="#eL" x="181"/><use href="#eX" x="224"/><use href="#eL" x="232"/><use href="#eL" x="236"/><use href="#eL" x="264"/><use href="#eL" x="266"/><use href="#eL" x="276"/><use href="#eL" x="302"/><use href="#eB" x="426"/><use href="#eB" x="441"/><use href="#eH" x="448"/><use href="#eS" x="461"/><use href="#eL" x="518"/><use href="#eB" x="533"/><use href="#eG" x="608"/><use href="#eL" x="621"/><use href="#eL" x="637"/><use href="#eL" x="660"/><use href="#eL" x="697"/><use href="#eL" x="731"/><use href="#eL" x="766"/></g></g>
<g id="GmUBP34" transform="translate(0,2464)"><text class="lb" x="264" y="18">GmUBP34</text><line class="ln" x1="272" x2="1983"/><g transform="scale(2.4737 1)"><use href="#eL" x="169"/><use href="#eB" x="210"/><use href="#eL" x="222"/><use href="#eL" x="266"/><use href="#eL" x="381"/><use href="#eL" x="423"/><use href="#eS" x="478"/><use href="#eL" x="502"/><use href="#eL" x="517"/><use href="#eL" x="589"/><use href="#eL" x="604"/><use href="#eK" x="638"/><use href="#eZ" x="640"/><use href="#eM" x="690"/><use href="#eL" x="698"/><use href="#eL" x="706"/><use href="#eL" x="783"/></g></g>
<g id="GmUBP35" transform="translate(0,2532.4)"><text class="lb" x="264" y="18">GmUBP35</text><line class="ln" x1="272" x2="1983"/><g transform="scale(2.4737 1)"><use href="#eL" x="127"/><use href="#eL" x="145"/><use href="#eB" x="341"/><use href="#eB" x="345"/><use href="#eS" x="366"/><use href="#eZ" x="369"/><use href="#eL" x="423"/><use href="#eZ" x="474"/><use href="#eL" x="483"/><use href="#eL" x="525"/><use href="#eL" x="593"/><use href="#eL" x="617"/><use href="#eL" x="626"/><use href="#eL" x="635"/><use href="#eL" x="640"/><use href="#eL" x="658"/><use href="#eG" x="683"/><use href="#eX" x="686"/><use href="#eS" x="695"/><use href="#eF" x="697"/><use href="#eB" x="745"/><use href="#eL" x="749"/><use href="#eB" x="767"/></g></g>
<g id="GmUBP36" transform="translate(0,2600.8)"><text class="lb" x="264" y="18">GmUBP36</text><line class="ln" x1="272" x2="1983"/><g transform="scale(2.4737 1)"><use href="#eN" x="117"/><use href="#eM" x="160"/><use href="#eL" x="201"/><use href="#eL" x="214"/><use href="#eL" x="245"/><use href="#eX" x="262"/><use href="#eH" x="264"/><use href="#eL" x="266"/><use href="#eL" x="269"/><use href="#eL" x="387"/><use href="#eL" x="487"/><use href="#eL" x="546"/><use href="#eL" x="563"/><use href="#eL" x="571"/><use href="#eL" x="596"/><use href="#eL" x="675"/><use href="#eL" x="725"/><use href="#eG" x="742"/></g></g>
<g id="GmUBP37" transform="translate(0,2669.2)"><text class="lb" x="264" y="18">GmUBP37</text><line class="ln" x1="272" x2="1983"/><g transform="scale(2.4737 1)"><use href="#eL" x="112"/><use href="#eL" x="228"/><use href="#eN" x="280"/><use href="#eM" x="310"/><use href="#eS" x="323"/><use href="#eL" x="353"/><use href="#eB" x="376"/><use href="#eL" x="431"/><use href="#eB" x="447"/><use href="#eD" x="473"/><use href="#eL" x="514"/><use href="#eL" x="531"/><use href="#eL" x="586"/><use href="#eB" x="599"/><use href="#eN" x="649"/><use href="#eB" x="730"/><use href="#eL" x="739"/><use href="#eE" x="763"/><use href="#eG" x="766"/><use href="#eL" x="790"/></g></g>
<g id="GmUBP38" transform="translate(0,2737.6)"><text class="lb" x="264" y="18">GmUBP38</text><line class="ln" x1="272" x2="1983"/><g transform="scale(2.4737 1)"><use href="#eL" x="148"/><use href="#eL" x="154"/><use href="#eN" x="224"/><use href="#eN" x="273"/><use href="#eL" x="377"/><use href="#eN" x="409"/><use href="#eG" x="421"/><use href="#eS" x="451"/><use href="#eG" x="455"/><use href="#eL" x="533"/><use href="#eM" x="567"/><use href="#eL" x="570"/><use href="#eL" x="592"/><use href="#eL" x="597"/><use href="#eN" x="603"/><use href="#eL" x="675"/><use href="#eL" x="686"/><use href="#eS" x="742"/><use href="#eS" x="767"/><use href="#eL" x="795"/></g></g>
<g id="GmUBP39" transform="translate(0,2805.9)"><text class="lb" x="264" y="18">GmUBP39</text><line class="ln" x1="272" x2="1983"/><g transform="scale(2.4737 1)"><use href="#eL" x="271"/><use href="#eL" x="288"/><use href="#eL" x="332"/><use href="#eL" x="445"/><use href="#eL" x="466"/><use href="#eL" x="479"/><use href="#eB" x="493"/><use href="#eL" x="539"/><use href="#eL" x="542"/><use href="#eX" x="585"/><use href="#eX" x="636"/><use href="#eL" x="644"/><use href="#eG" x="707"/><use href="#eS" x="709"/><use href="#eK" x="767"/><use href="#eM" x="788"/></g></g>
<g id="GmUBP40" transform="translate(0,2874.3)"><text class="lb" x="264" y="18">GmUBP40</text><line class="ln" x1="272" x2="1983"/><g transform="scale(2.4737 1)"><use href="#eL" x="136"/><use href="#eL" x="176"/><use href="#eL" x="181"/><use href="#eL" x="190"/><use href="#eX" x="235"/><use href="#eL" x="246"/><use href="#eL" x="250"/><use href="#eL" x="278"/><use href="#eL" x="287"/><use href="#eG" x="355"/><use href="#eS" x="420"/><use href="#eB" x="434"/><use href="#eL" x="452"/><use href="#eL" x="456"/><use href="#eN" x="471"/><use href="#eN" x="610"/><use href="#eL" x="646"/><use href="#eL" x="663"/><use href="#eD" x="716"/><use href="#eL" x="731"/><use href="#eH" x="764"/></g></g>
<g id="GmUBP41" transform="translate(0,2942.7)"><text class="lb" x="264" y="18">GmUBP41</text><line class="ln" x1="272" x2="1983"/><g transform="scale(2.4737 1)"><use href="#eL" x="189"/><use href="#eL" x="213"/><use href="#eL" x="289"/><use href="#eL" x="291"/><use href="#eB" x="345"/><use href="#eL" x="367"/><use href="#eG" x="394"/><use href="#eL" x="397"/><use href="#eL" x="412"/><use href="#eL" x="429"/><use href="#eL" x="448"/><use href="#eL" x="450"/><use href="#eN" x="523"/><use href="#eL" x="559"/><use href="#eL" x="596"/><use href="#eL" x="629"/><use href="#eL" x="631"/><use href="#eL" x="659"/><use href="#eL" x="663"/><use href="#eL" x="667"/><use href="#eB" x="676"/><use href="#eL" x="753"/><use href="#eH" x="779"/><use href="#eL" x="797"/><use href="#eL" x="799"/></g></g>
<g id="GmUBP42" transform="translate(0,3011.1)"><text class="lb" x="264" y="18">GmUBP42</text><line class="ln" x1="272" x2="1983"/><g transform="scale(2.4737 1)"><use href="#eL" x="170"/><use href="#eS" x="207"/><use href="#eL" x="244"/><use href="#eL" x="301"/><use href="#eL" x="324"/><use href="#eF" x="348"/><use href="#eS" x="395"/><use href="#eL" x="423"/><use href="#eL" x="448"/><use href="#eL" x="537"/><use href="#eL" x="664"/><use href="#eL" x="682"/><use href="#eL" x="694"/><use href="#eS" x="709"/><use href="#eQ" x="711"/><use href="#eL" x="765"/><use href="#eL" x="775"/></g></g>
<g id="GmUBP43" transform="translate(0,3079.5)"><text class="lb" x="264" y="18">GmUBP43</text><line class="ln" x1="272" x2="1983"/><g transform="scale(2.4737 1)"><use href="#eL" x="129"/><use href="#eD" x="173"/><use href="#eL" x="175"/><use href="#eB" x="252"/><use href="#eB" x="261"/><use href="#eL" x="277"/><use href="#eL" x="301"/><use href="#eL" x="332"/><use href="#eL" x="377"/><use href="#eL" x="446"/><use href="#eB" x="469"/><use href="#eL" x="671"/><use href="#eR" x="679"/><use href="#eL" x="690"/><use href="#eL" x="694"/><use href="#eL" x="753"/><use href="#eL" x="757"/><use href="#eL" x="760"/><use href="#eL" x="793"/></g></g>
<g id="GmUBP44" transform="translate(0,3147.8)"><text class="lb" x="264" y="18">GmUBP44</text><line class="ln" x1="272" x2="1983"/><g transform="scale(2.4737 1)"><use href="#eH" x="131"/><use href="#eL" x="176"/><use href="#eL" x="290"/><use href="#eL" x="363"/><use href="#eN" x="400"/><use href="#eL" x="414"/><use href="#eM" x="442"/><use href="#eB" x="463"/><use href="#eL" x="499"/><use href="#eL" x="538"/><use href="#eL" x="564"/><use href="#eX" x="570"/><use href="#eL" x="593"/><use href="#eL" x="596"/><use href="#eL" x="662"/><use href="#eB" x="673"/><use href="#eL" x="686"/><use href="#eB" x="720"/><use href="#eS" x="745"/><use href="#eL" x="752"/><use href="#eG" x="760"/><use href="#eS" x="765"/><use href="#eL" x="794"/></g></g>
<g id="GmUBP45" transform="translate(0,3216.2)"><text class="lb" x="264" y="18">GmUBP45</text><line class="ln" x1="272" x2="1983"/><g transform="scale(2.4737 1)"><use href="#eB" x="167"/><use href="#eX" x="175"/><use href="#eH" x="178"/><use href="#eG" x="228"/><use href="#eL" x="251"/><use href="#eL" x="271"/><use href="#eG" x="281"/><use href="#eS" x="291"/><use href="#eL" x="320"/><use href="#eL" x="369"/><use href="#eL" x="403"/><use href="#eL" x="416"/><use href="#eB" x="430"/><use href="#eL" x="489"/><use href="#eL" x="520"/><use href="#eL" x="573"/><use href="#eL" x="587"/><use href="#eH" x="735"/><use href="#eB" x="762"/><use href="#eL" x="789"/><use href="#eG" x="795"/></g></g>
<g id="GmUBP46" transform="translate(0,3284.6)"><text class="lb" x="264" y="18">GmUBP46</text><line class="ln" x1="272" x2="1983"/><g transform="scale(2.4737 1)"><use href="#eL" x="262"/><use href="#eZ" x="274"/><use href="#eL" x="292"/><use href="#eL" x="311"/><use href="#eX" x="348"/><use href="#eL" x="356"/><use href="#eL" x="511"/><use href="#eL" x="592"/><use href="#eL" x="632"/><use href="#eL" x="635"/><use href="#eL" x="669"/><use href="#eL" x="683"/><use href="#eE" x="720"/><use href="#eL" x="744"/><use href="#eL" x="760"/><use href="#eL" x="764"/><use href="#eL" x="766"/></g></g>
<g id="GmUBP47" transform="translate(0,3353)"><text class="lb" x="264" y="18">GmUBP47</text><line class="ln" x1="272" x2="1983"/><g transform="scale(2.4737 1)"><use href="#eL" x="125"/><use href="#eL" x="155"/><use href="#eL" x="199"/><use href="#eL" x="282"/><use href="#eL" x="295"/><use href="#eL" x="297"/><use href="#eL" x="320"/><use href="#eB" x="322"/><use href="#eL" x="402"/><use href="#eX" x="421"/><use href="#eL" x="459"/><use href="#eL" x="497"/><use href="#eH" x="509"/><use href="#eB" x="579"/><use href="#eL" x="606"/><use href="#eG" x="607"/><use href="#eH" x="611"/><use href="#eB" x="617"/><use href="#eL" x="622"/><use href="#eL" x="627"/><use href="#eM" x="628"/><use href="#eM" x="632"/><use href="#eH" x="735"/><use href="#eS" x="738"/><use href="#eG" x="772"/><use href="#eG" x="780"/></g></g>
<g id="GmUBP48" transform="translate(0,3421.4)"><text class="lb" x="264" y="18">GmUBP48</text><line class="ln" x1="272" x2="1983"/><g transform="scale(2.4737 1)"><use href="#eB" x="136"/><use href="#eL" x="149"/><use href="#eX" x="208"/><use href="#eL" x="250"/><use href="#eL" x="283"/><use href="#eL" x="307"/><use href="#eB" x="333"/><use href="#eL" x="350"/><use href="#eB" x="378"/><use href="#eE" x="384"/><use href="#eG" x="438"/><use href="#eL" x="507"/><use href="#eL" x="560"/><use href="#eW" x="576"/><use href="#eL" x="599"/><use href="#eL" x="626"/><use href="#eH" x="708"/><use href="#eL" x="732"/><use href="#eL" x="738"/><use href="#eL" x="767"/></g></g>
<g id="GmUBP49" transform="translate(0,3489.7)"><text class="lb" x="264" y="18">GmUBP49</text><line class="ln" x1="272" x2="1983"/><g transform="scale(2.4737 1)"><use href="#eL" x="142"/><use href="#eL" x="149"/><use href="#eB" x="168"/><use href="#eB" x="266"/><use href="#eB" x="412"/><use href="#eN" x="430"/><use href="#eB" x="501"/><use href="#eB" x="548"/><use href="#eL" x="592"/><use href="#eL" x="600"/><use href="#eB" x="670"/><use href="#eB" x="688"/><use href="#eL" x="703"/><use href="#eL" x="709"/><use href="#eH" x="768"/><use href="#eX" x="777"/><use href="#eC" x="788"/><use href="#eG" x="791"/></g></g>
<g id="GmUBP50" transform="translate(0,3558.1)"><text class="lb" x="264" y="18">GmUBP50</text><line class="ln" x1="272" x2="1983"/><g transform="scale(2.4737 1)"><use href="#eL" x="112"/><use href="#eL" x="155"/><use href="#eH" x="186"/><use href="#eX" x="235"/><use href="#eL" x="265"/><use href="#eL" x="400"/><use href="#eN" x="414"/><use href="#eB" x="462"/><use href="#eL" x="473"/><use href="#eS" x="520"/><use href="#eG" x="524"/><use href="#eD" x="553"/><use href="#eL" x="556"/><use href="#eM" x="564"/><use href="#eL" x="574"/><use href="#eL" x="583"/><use href="#eL" x="593"/><use href="#eB" x="600"/><use href="#eL" x="652"/><use href="#eL" x="678"/><use href="#eL" x="715"/><use href="#eL" x="724"/><use href="#eL" x="766"/></g></g>
<g id="GmUBP51" transform="translate(0,3626.5)"><text class="lb" x="264" y="18">GmUBP51</text><line class="ln" x1="272" x2="1983"/><g transform="scale(2.4737 1)"><use href="#eL" x="150.6"/><use href="#eB" x="155.7"/><use href="#eH" x="186.7"/><use href="#eH" x="190.8"/><use href="#eA" x="195.9"/><use href="#eM" x="203.2"/><use href="#eL" x="260.9"/><use href="#eL" x="364"/><use href="#eL" x="368"/><use href="#eL" x="390"/><use href="#eM" x="457"/><use href="#eL" x="501"/><use href="#eB" x="518"/><use href="#eL" x="624"/><use href="#eL" x="646.8"/><use href="#eD" x="672.4"/><use href="#eM" x="692.9"/><use href="#eB" x="735.7"/><use href="#eL" x="790.7"/><use href="#eL" x="798.7"/></g></g>
<g id="GmUBP52" transform="translate(0,3694.9)"><text class="lb" x="264" y="18">GmUBP52</text><line class="ln" x1="272" x2="1983"/><g transform="scale(2.4737 1)"><use href="#eL" x="113"/><use href="#eL" x="121.3"/><use href="#eL" x="200.7"/><use href="#eB" x="210.4"/><use href="#eG" x="246.5"/><use href="#eL" x="269.8"/><use href="#eG" x="285.7"/><use href="#eL" x="370"/><use href="#eL" x="412"/><use href="#eL" x="437"/><use href="#eL" x="465"/><use href="#eL" x="478"/><use href="#eL" x="493"/><use href="#eB" x="598"/><use href="#eL" x="623"/><use href="#eL" x="627"/><use href="#eL" x="631"/><use href="#eD" x="656.2"/><use href="#eB" x="688.3"/><use href="#eB" x="726.6"/><use href="#eL" x="776.2"/></g></g>
</g>

<g id="axis">
<path class="tk" d="M273.3 3763.3H1981.3M273.3 3761V3785M444.1 3763V3785M614.9 3763V3785M785.7 3763V3785M956.5 3763V3785M1127.3 3763V3785M1298.1 3763V3785M1468.9 3763V3785M1639.7 3763V3785M1810.5 3763V3785M1981.3 3752V3785"/>
<text class="lb" x="269" y="3772">5'</text>
<text x="1991" y="3772" style="font-size:40px">3'</text>
<text class="ax" x="275" y="3823">0</text>
<text class="ax" x="444.1" y="3823">200</text>
<text class="ax" x="614.9" y="3823">400</text>
<text class="ax" x="785.7" y="3823">600</text>
<text class="ax" x="956.5" y="3823">800</text>
<text class="ax" x="1127.3" y="3823">1000</text>
<text class="ax" x="1298.1" y="3823">1200</text>
<text class="ax" x="1468.9" y="3823">1400</text>
<text class="ax" x="1639.7" y="3823">1600</text>
<text class="ax" x="1810.5" y="3823">1800</text>
<text class="ax" x="1981.3" y="3823">2000</text>
</g>
</svg>
